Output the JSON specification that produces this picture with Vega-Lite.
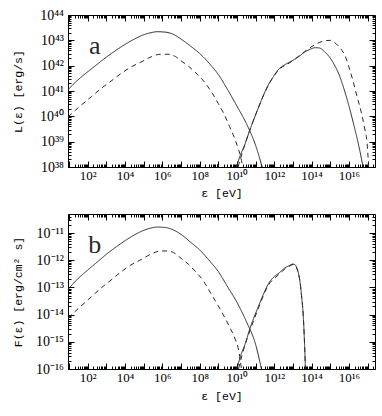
{
  "$schema": "https://vega.github.io/schema/vega-lite/v6.json",
  "padding": {"left": 11, "top": 7, "right": 4, "bottom": 4},
  "background": "white",
  "spacing": 14,
  "config": {
    "view": {"stroke": "#000", "strokeWidth": 1},
    "axis": {"domain": false, "grid": false, "labelFont": "Liberation Serif", "labelFontSize": 13, "labelColor": "#000", "tickColor": "#000", "tickWidth": 1, "titleFont": "Liberation Mono", "titleFontSize": 11.5, "titleFontWeight": "normal", "titleColor": "#000", "titleBaseline": "middle", "labelOverlap": false, "labelFlush": false}
  },
  "datasets": {
    "a": [
      {"c":"sync","s":"solid","e":8.71,"v":1.096e41},{"c":"sync","s":"solid","e":15.85,"v":1.778e41},{"c":"sync","s":"solid","e":39.81,"v":3.311e41},{"c":"sync","s":"solid","e":100,"v":5.754e41},{"c":"sync","s":"solid","e":316.2,"v":1.122e42},{"c":"sync","s":"solid","e":1e3,"v":2.188e42},{"c":"sync","s":"solid","e":3162,"v":3.981e42},{"c":"sync","s":"solid","e":1e4,"v":6.918e42},{"c":"sync","s":"solid","e":3.162e4,"v":1.122e43},{"c":"sync","s":"solid","e":1e5,"v":1.66e43},{"c":"sync","s":"solid","e":3.162e5,"v":2.089e43},{"c":"sync","s":"solid","e":5.012e5,"v":2.188e43},{"c":"sync","s":"solid","e":1.585e6,"v":2.089e43},{"c":"sync","s":"solid","e":3.981e6,"v":1.698e43},{"c":"sync","s":"solid","e":1e7,"v":1.122e43},{"c":"sync","s":"solid","e":3.162e7,"v":6.026e42},{"c":"sync","s":"solid","e":1e8,"v":3.02e42},{"c":"sync","s":"solid","e":3.162e8,"v":1.259e42},{"c":"sync","s":"solid","e":1e9,"v":4.467e41},{"c":"sync","s":"solid","e":3.162e9,"v":1.122e41},{"c":"sync","s":"solid","e":1e10,"v":2.512e40},{"c":"sync","s":"solid","e":3.162e10,"v":5.248e39},{"c":"sync","s":"solid","e":1e11,"v":7.079e38},{"c":"sync","s":"solid","e":2.239e11,"v":1e38},
      {"c":"syncd","s":"dashed","e":8.71,"v":9.55e39},{"c":"syncd","s":"dashed","e":15.85,"v":1.413e40},{"c":"syncd","s":"dashed","e":39.81,"v":2.57e40},{"c":"syncd","s":"dashed","e":158.5,"v":6.026e40},{"c":"syncd","s":"dashed","e":501.2,"v":1.23e41},{"c":"syncd","s":"dashed","e":1995,"v":2.63e41},{"c":"syncd","s":"dashed","e":6310,"v":5.012e41},{"c":"syncd","s":"dashed","e":1.995e4,"v":8.71e41},{"c":"syncd","s":"dashed","e":7.943e4,"v":1.445e42},{"c":"syncd","s":"dashed","e":2.512e5,"v":2.239e42},{"c":"syncd","s":"dashed","e":7.943e5,"v":2.818e42},{"c":"syncd","s":"dashed","e":1.995e6,"v":2.818e42},{"c":"syncd","s":"dashed","e":5.012e6,"v":2.291e42},{"c":"syncd","s":"dashed","e":1e7,"v":1.549e42},{"c":"syncd","s":"dashed","e":2.512e7,"v":9.55e41},{"c":"syncd","s":"dashed","e":5.012e7,"v":6.026e41},{"c":"syncd","s":"dashed","e":1.585e8,"v":2.512e41},{"c":"syncd","s":"dashed","e":3.981e8,"v":1e41},{"c":"syncd","s":"dashed","e":1e9,"v":3.162e40},{"c":"syncd","s":"dashed","e":1.995e9,"v":1.259e40},{"c":"syncd","s":"dashed","e":3.981e9,"v":3.981e39},{"c":"syncd","s":"dashed","e":7.943e9,"v":1.202e39},{"c":"syncd","s":"dashed","e":1.259e10,"v":4.467e38},{"c":"syncd","s":"dashed","e":1.585e10,"v":2.512e38},{"c":"syncd","s":"dashed","e":1.995e10,"v":1e38},
      {"c":"ic","s":"solid","e":9.333e9,"v":1e38},{"c":"ic","s":"solid","e":1.585e10,"v":3.162e38},{"c":"ic","s":"solid","e":2.512e10,"v":7.079e38},{"c":"ic","s":"solid","e":5.012e10,"v":3.02e39},{"c":"ic","s":"solid","e":1.259e11,"v":1.778e40},{"c":"ic","s":"solid","e":2.512e11,"v":6.31e40},{"c":"ic","s":"solid","e":5.012e11,"v":1.862e41},{"c":"ic","s":"solid","e":1e12,"v":4.169e41},{"c":"ic","s":"solid","e":1.585e12,"v":6.761e41},{"c":"ic","s":"solid","e":3.981e12,"v":1.122e42},{"c":"ic","s":"solid","e":7.943e12,"v":1.479e42},{"c":"ic","s":"solid","e":1.995e13,"v":2.239e42},{"c":"ic","s":"solid","e":3.981e13,"v":3.311e42},{"c":"ic","s":"solid","e":7.943e13,"v":4.365e42},{"c":"ic","s":"solid","e":1.585e14,"v":5.129e42},{"c":"ic","s":"solid","e":2.512e14,"v":5.012e42},{"c":"ic","s":"solid","e":5.012e14,"v":3.548e42},{"c":"ic","s":"solid","e":1e15,"v":1.995e42},{"c":"ic","s":"solid","e":1.585e15,"v":1.148e42},{"c":"ic","s":"solid","e":3.162e15,"v":3.981e41},{"c":"ic","s":"solid","e":6.31e15,"v":8.511e40},{"c":"ic","s":"solid","e":1e16,"v":2.63e40},{"c":"ic","s":"solid","e":1.585e16,"v":7.079e39},{"c":"ic","s":"solid","e":2.818e16,"v":1.259e39},{"c":"ic","s":"solid","e":3.981e16,"v":3.981e38},{"c":"ic","s":"solid","e":5.754e16,"v":1e38},
      {"c":"icd","s":"dashed","e":1.148e10,"v":1e38},{"c":"icd","s":"dashed","e":1.995e10,"v":3.981e38},{"c":"icd","s":"dashed","e":5.012e10,"v":3.02e39},{"c":"icd","s":"dashed","e":1.259e11,"v":1.778e40},{"c":"icd","s":"dashed","e":5.012e11,"v":1.778e41},{"c":"icd","s":"dashed","e":1.585e12,"v":6.31e41},{"c":"icd","s":"dashed","e":7.943e12,"v":1.413e42},{"c":"icd","s":"dashed","e":3.981e13,"v":3.467e42},{"c":"icd","s":"dashed","e":1.585e14,"v":6.918e42},{"c":"icd","s":"dashed","e":5.012e14,"v":9.55e42},{"c":"icd","s":"dashed","e":1e15,"v":1e43},{"c":"icd","s":"dashed","e":1.585e15,"v":8.511e42},{"c":"icd","s":"dashed","e":3.162e15,"v":5.248e42},{"c":"icd","s":"dashed","e":6.31e15,"v":2.399e42},{"c":"icd","s":"dashed","e":1e16,"v":8.913e41},{"c":"icd","s":"dashed","e":1.585e16,"v":2.818e41},{"c":"icd","s":"dashed","e":2.818e16,"v":5.623e40},{"c":"icd","s":"dashed","e":5.012e16,"v":1.122e40},{"c":"icd","s":"dashed","e":7.079e16,"v":3.162e39},{"c":"icd","s":"dashed","e":9.333e16,"v":9.772e38},{"c":"icd","s":"dashed","e":1.148e17,"v":1e38}
    ],
    "b": [
      {"c":"sync","s":"solid","e":8.71,"v":8.318e-14},{"c":"sync","s":"solid","e":15.85,"v":1.349e-13},{"c":"sync","s":"solid","e":39.81,"v":2.512e-13},{"c":"sync","s":"solid","e":100,"v":4.365e-13},{"c":"sync","s":"solid","e":316.2,"v":8.511e-13},{"c":"sync","s":"solid","e":1e3,"v":1.66e-12},{"c":"sync","s":"solid","e":3162,"v":3.02e-12},{"c":"sync","s":"solid","e":1e4,"v":5.248e-12},{"c":"sync","s":"solid","e":3.162e4,"v":8.511e-12},{"c":"sync","s":"solid","e":1e5,"v":1.259e-11},{"c":"sync","s":"solid","e":3.162e5,"v":1.585e-11},{"c":"sync","s":"solid","e":5.012e5,"v":1.66e-11},{"c":"sync","s":"solid","e":1.585e6,"v":1.585e-11},{"c":"sync","s":"solid","e":3.981e6,"v":1.288e-11},{"c":"sync","s":"solid","e":1e7,"v":8.913e-12},{"c":"sync","s":"solid","e":3.162e7,"v":4.677e-12},{"c":"sync","s":"solid","e":1e8,"v":2.399e-12},{"c":"sync","s":"solid","e":3.162e8,"v":1e-12},{"c":"sync","s":"solid","e":1e9,"v":3.802e-13},{"c":"sync","s":"solid","e":3.162e9,"v":1.047e-13},{"c":"sync","s":"solid","e":1e10,"v":2.818e-14},{"c":"sync","s":"solid","e":3.162e10,"v":5.623e-15},{"c":"sync","s":"solid","e":1e11,"v":7.943e-16},{"c":"sync","s":"solid","e":2.042e11,"v":1e-16},
      {"c":"syncd","s":"dashed","e":8.71,"v":7.413e-15},{"c":"syncd","s":"dashed","e":15.85,"v":1.096e-14},{"c":"syncd","s":"dashed","e":39.81,"v":1.95e-14},{"c":"syncd","s":"dashed","e":158.5,"v":4.571e-14},{"c":"syncd","s":"dashed","e":501.2,"v":9.333e-14},{"c":"syncd","s":"dashed","e":1995,"v":1.995e-13},{"c":"syncd","s":"dashed","e":6310,"v":3.802e-13},{"c":"syncd","s":"dashed","e":1.995e4,"v":6.607e-13},{"c":"syncd","s":"dashed","e":7.943e4,"v":1.096e-12},{"c":"syncd","s":"dashed","e":2.512e5,"v":1.698e-12},{"c":"syncd","s":"dashed","e":7.943e5,"v":2.188e-12},{"c":"syncd","s":"dashed","e":1.995e6,"v":2.188e-12},{"c":"syncd","s":"dashed","e":5.012e6,"v":1.738e-12},{"c":"syncd","s":"dashed","e":1e7,"v":1.175e-12},{"c":"syncd","s":"dashed","e":2.512e7,"v":7.079e-13},{"c":"syncd","s":"dashed","e":5.012e7,"v":4.365e-13},{"c":"syncd","s":"dashed","e":1.585e8,"v":1.738e-13},{"c":"syncd","s":"dashed","e":3.981e8,"v":6.026e-14},{"c":"syncd","s":"dashed","e":1e9,"v":2.089e-14},{"c":"syncd","s":"dashed","e":1.995e9,"v":8.913e-15},{"c":"syncd","s":"dashed","e":3.981e9,"v":3.548e-15},{"c":"syncd","s":"dashed","e":7.943e9,"v":1.259e-15},{"c":"syncd","s":"dashed","e":1.259e10,"v":4.467e-16},{"c":"syncd","s":"dashed","e":1.738e10,"v":1e-16},
      {"c":"ic","s":"solid","e":1e10,"v":1e-16},{"c":"ic","s":"solid","e":1.585e10,"v":3.162e-16},{"c":"ic","s":"solid","e":2.512e10,"v":7.079e-16},{"c":"ic","s":"solid","e":5.012e10,"v":3.162e-15},{"c":"ic","s":"solid","e":1.259e11,"v":1.66e-14},{"c":"ic","s":"solid","e":2.512e11,"v":5.248e-14},{"c":"ic","s":"solid","e":5.012e11,"v":1.413e-13},{"c":"ic","s":"solid","e":1e12,"v":2.512e-13},{"c":"ic","s":"solid","e":1.585e12,"v":3.162e-13},{"c":"ic","s":"solid","e":3.631e12,"v":5.129e-13},{"c":"ic","s":"solid","e":6.31e12,"v":6.31e-13},{"c":"ic","s":"solid","e":1e13,"v":7.244e-13},{"c":"ic","s":"solid","e":1.259e13,"v":6.918e-13},{"c":"ic","s":"solid","e":1.585e13,"v":5.37e-13},{"c":"ic","s":"solid","e":1.995e13,"v":3.162e-13},{"c":"ic","s":"solid","e":2.399e13,"v":1.585e-13},{"c":"ic","s":"solid","e":2.884e13,"v":5.012e-14},{"c":"ic","s":"solid","e":3.548e13,"v":1e-14},{"c":"ic","s":"solid","e":4.266e13,"v":6.31e-16},{"c":"ic","s":"solid","e":4.677e13,"v":1e-16},
      {"c":"icd","s":"dashed","e":1.202e10,"v":1e-16},{"c":"icd","s":"dashed","e":1.995e10,"v":3.802e-16},{"c":"icd","s":"dashed","e":5.012e10,"v":2.63e-15},{"c":"icd","s":"dashed","e":1.259e11,"v":1.413e-14},{"c":"icd","s":"dashed","e":5.012e11,"v":1.259e-13},{"c":"icd","s":"dashed","e":1.585e12,"v":2.818e-13},{"c":"icd","s":"dashed","e":3.631e12,"v":4.677e-13},{"c":"icd","s":"dashed","e":6.31e12,"v":5.888e-13},{"c":"icd","s":"dashed","e":1e13,"v":6.918e-13},{"c":"icd","s":"dashed","e":1.259e13,"v":6.761e-13},{"c":"icd","s":"dashed","e":1.585e13,"v":5.248e-13},{"c":"icd","s":"dashed","e":1.995e13,"v":3.162e-13},{"c":"icd","s":"dashed","e":2.399e13,"v":1.585e-13},{"c":"icd","s":"dashed","e":2.884e13,"v":5.012e-14},{"c":"icd","s":"dashed","e":3.548e13,"v":1e-14},{"c":"icd","s":"dashed","e":4.266e13,"v":6.31e-16},{"c":"icd","s":"dashed","e":4.677e13,"v":1e-16}
    ]
  },
  "vconcat": [
    {
      "width": 307, "height": 152,
      "data": {"name": "a"},
      "resolve": {"axis": {"x": "independent", "y": "independent"}},
      "layer": [
        {
          "mark": {"type": "line", "color": "#2a2a2a", "strokeWidth": 1, "clip": true, "interpolate": "monotone"},
          "encoding": {
            "x": {"field": "e", "type": "quantitative", "scale": {"type": "log", "domain": [8.71, 2.512e17], "nice": false},
              "axis": {"orient": "bottom", "title": "ε [eV]", "titleX": 153.5, "titleY": 26, "values": [10,100,1e3,1e4,1e5,1e6,1e7,1e8,1e9,1e10,1e11,1e12,1e13,1e14,1e15,1e16,1e17], "tickSize": -6, "labelPadding": 8,
                "labelExpr": "(round(log(datum.value)/LN10) % 2 != 0) ? '' : ('10' + (round(log(datum.value)/LN10) >= 10 ? substring('⁰¹²³⁴⁵⁶⁷⁸⁹', floor(round(log(datum.value)/LN10)/10), floor(round(log(datum.value)/LN10)/10)+1) : '') + substring('⁰¹²³⁴⁵⁶⁷⁸⁹', round(log(datum.value)/LN10) % 10, round(log(datum.value)/LN10) % 10 + 1))"}},
            "y": {"field": "v", "type": "quantitative", "scale": {"type": "log", "domain": [1e38, 1e44], "nice": false},
              "axis": {"orient": "left", "title": "L(ε) [erg/s]", "titleX": -50, "titleY": 76, "values": [1e38,1e39,1e40,1e41,1e42,1e43,1e44], "tickSize": -6, "labelPadding": 10.5, "labelFontSize": 14,
                "labelExpr": "'10' + substring('⁰¹²³⁴⁵⁶⁷⁸⁹', floor(round(log(datum.value)/LN10)/10), floor(round(log(datum.value)/LN10)/10)+1) + substring('⁰¹²³⁴⁵⁶⁷⁸⁹', round(log(datum.value)/LN10) % 10, round(log(datum.value)/LN10) % 10 + 1)"}},
            "detail": {"field": "c"},
            "strokeDash": {"field": "s", "type": "nominal", "scale": {"domain": ["solid", "dashed"], "range": [[1, 0], [5, 4]]}, "legend": null}
          }
        },
        {
          "mark": {"type": "point", "opacity": 0},
          "encoding": {
            "x": {"field": "e", "type": "quantitative", "scale": {"type": "log", "domain": [8.71, 2.512e17], "nice": false},
              "axis": {"orient": "bottom", "title": null, "labels": false, "tickSize": -3, "values": [9,20,30,40,50,60,70,80,90,200,300,400,500,600,700,800,900,2e3,3e3,4e3,5e3,6e3,7e3,8e3,9e3,2e4,3e4,4e4,5e4,6e4,7e4,8e4,9e4,2e5,3e5,4e5,5e5,6e5,7e5,8e5,9e5,2e6,3e6,4e6,5e6,6e6,7e6,8e6,9e6,2e7,3e7,4e7,5e7,6e7,7e7,8e7,9e7,2e8,3e8,4e8,5e8,6e8,7e8,8e8,9e8,2e9,3e9,4e9,5e9,6e9,7e9,8e9,9e9,2e10,3e10,4e10,5e10,6e10,7e10,8e10,9e10,2e11,3e11,4e11,5e11,6e11,7e11,8e11,9e11,2e12,3e12,4e12,5e12,6e12,7e12,8e12,9e12,2e13,3e13,4e13,5e13,6e13,7e13,8e13,9e13,2e14,3e14,4e14,5e14,6e14,7e14,8e14,9e14,2e15,3e15,4e15,5e15,6e15,7e15,8e15,9e15,2e16,3e16,4e16,5e16,6e16,7e16,8e16,9e16,2e17]}},
            "y": {"field": "v", "type": "quantitative", "scale": {"type": "log", "domain": [1e38, 1e44], "nice": false},
              "axis": {"orient": "left", "title": null, "labels": false, "tickSize": -3, "values": [2e38,3e38,4e38,5e38,6e38,7e38,8e38,9e38,2e39,3e39,4e39,5e39,6e39,7e39,8e39,9e39,2e40,3e40,4e40,5e40,6e40,7e40,8e40,9e40,2e41,3e41,4e41,5e41,6e41,7e41,8e41,9e41,2e42,3e42,4e42,5e42,6e42,7e42,8e42,9e42,2e43,3e43,4e43,5e43,6e43,7e43,8e43,9e43]}}
          }
        },
        {
          "mark": {"type": "point", "opacity": 0},
          "encoding": {
            "x": {"field": "e", "type": "quantitative", "scale": {"type": "log", "domain": [8.71, 2.512e17], "nice": false},
              "axis": {"orient": "top", "title": null, "labels": false, "tickSize": -6, "values": [10,100,1e3,1e4,1e5,1e6,1e7,1e8,1e9,1e10,1e11,1e12,1e13,1e14,1e15,1e16,1e17]}},
            "y": {"field": "v", "type": "quantitative", "scale": {"type": "log", "domain": [1e38, 1e44], "nice": false},
              "axis": {"orient": "right", "title": null, "labels": false, "tickSize": -6, "values": [1e38,1e39,1e40,1e41,1e42,1e43,1e44]}}
          }
        },
        {
          "mark": {"type": "point", "opacity": 0},
          "encoding": {
            "x": {"field": "e", "type": "quantitative", "scale": {"type": "log", "domain": [8.71, 2.512e17], "nice": false},
              "axis": {"orient": "top", "title": null, "labels": false, "tickSize": -3, "values": [9,20,30,40,50,60,70,80,90,200,300,400,500,600,700,800,900,2e3,3e3,4e3,5e3,6e3,7e3,8e3,9e3,2e4,3e4,4e4,5e4,6e4,7e4,8e4,9e4,2e5,3e5,4e5,5e5,6e5,7e5,8e5,9e5,2e6,3e6,4e6,5e6,6e6,7e6,8e6,9e6,2e7,3e7,4e7,5e7,6e7,7e7,8e7,9e7,2e8,3e8,4e8,5e8,6e8,7e8,8e8,9e8,2e9,3e9,4e9,5e9,6e9,7e9,8e9,9e9,2e10,3e10,4e10,5e10,6e10,7e10,8e10,9e10,2e11,3e11,4e11,5e11,6e11,7e11,8e11,9e11,2e12,3e12,4e12,5e12,6e12,7e12,8e12,9e12,2e13,3e13,4e13,5e13,6e13,7e13,8e13,9e13,2e14,3e14,4e14,5e14,6e14,7e14,8e14,9e14,2e15,3e15,4e15,5e15,6e15,7e15,8e15,9e15,2e16,3e16,4e16,5e16,6e16,7e16,8e16,9e16,2e17]}},
            "y": {"field": "v", "type": "quantitative", "scale": {"type": "log", "domain": [1e38, 1e44], "nice": false},
              "axis": {"orient": "right", "title": null, "labels": false, "tickSize": -3, "values": [2e38,3e38,4e38,5e38,6e38,7e38,8e38,9e38,2e39,3e39,4e39,5e39,6e39,7e39,8e39,9e39,2e40,3e40,4e40,5e40,6e40,7e40,8e40,9e40,2e41,3e41,4e41,5e41,6e41,7e41,8e41,9e41,2e42,3e42,4e42,5e42,6e42,7e42,8e42,9e42,2e43,3e43,4e43,5e43,6e43,7e43,8e43,9e43]}}
          }
        },
        {
          "data": {"values": [{"t": "a", "e": 236, "v": 2.88e42}]},
          "mark": {"type": "text", "font": "Liberation Serif", "fontSize": 26, "align": "center", "baseline": "alphabetic", "color": "#2a2a2a"},
          "encoding": {
            "x": {"field": "e", "type": "quantitative", "scale": {"type": "log", "domain": [8.71, 2.512e17], "nice": false}, "axis": null},
            "y": {"field": "v", "type": "quantitative", "scale": {"type": "log", "domain": [1e38, 1e44], "nice": false}, "axis": null},
            "text": {"field": "t"}
          }
        }
      ]
    },
    {
      "width": 307, "height": 155,
      "data": {"name": "b"},
      "resolve": {"axis": {"x": "independent", "y": "independent"}},
      "layer": [
        {
          "mark": {"type": "line", "color": "#2a2a2a", "strokeWidth": 1, "clip": true, "interpolate": "monotone"},
          "encoding": {
            "x": {"field": "e", "type": "quantitative", "scale": {"type": "log", "domain": [8.71, 2.512e17], "nice": false},
              "axis": {"orient": "bottom", "title": "ε [eV]", "titleX": 153.5, "titleY": 27, "values": [10,100,1e3,1e4,1e5,1e6,1e7,1e8,1e9,1e10,1e11,1e12,1e13,1e14,1e15,1e16,1e17], "tickSize": -6, "labelPadding": 8,
                "labelExpr": "(round(log(datum.value)/LN10) % 2 != 0) ? '' : ('10' + (round(log(datum.value)/LN10) >= 10 ? substring('⁰¹²³⁴⁵⁶⁷⁸⁹', floor(round(log(datum.value)/LN10)/10), floor(round(log(datum.value)/LN10)/10)+1) : '') + substring('⁰¹²³⁴⁵⁶⁷⁸⁹', round(log(datum.value)/LN10) % 10, round(log(datum.value)/LN10) % 10 + 1))"}},
            "y": {"field": "v", "type": "quantitative", "scale": {"type": "log", "domain": [1e-16, 5.012e-11], "nice": false},
              "axis": {"orient": "left", "title": "F(ε) [erg/cm² s]", "titleX": -50, "titleY": 77.5, "values": [1e-16,1e-15,1e-14,1e-13,1e-12,1e-11], "tickSize": -6, "labelPadding": 10.5, "labelFontSize": 14,
                "labelExpr": "'10⁻' + substring('⁰¹²³⁴⁵⁶⁷⁸⁹', floor(round(-log(datum.value)/LN10)/10), floor(round(-log(datum.value)/LN10)/10)+1) + substring('⁰¹²³⁴⁵⁶⁷⁸⁹', round(-log(datum.value)/LN10) % 10, round(-log(datum.value)/LN10) % 10 + 1)"}},
            "detail": {"field": "c"},
            "strokeDash": {"field": "s", "type": "nominal", "scale": {"domain": ["solid", "dashed"], "range": [[1, 0], [5, 4]]}, "legend": null}
          }
        },
        {
          "mark": {"type": "point", "opacity": 0},
          "encoding": {
            "x": {"field": "e", "type": "quantitative", "scale": {"type": "log", "domain": [8.71, 2.512e17], "nice": false},
              "axis": {"orient": "bottom", "title": null, "labels": false, "tickSize": -3, "values": [9,20,30,40,50,60,70,80,90,200,300,400,500,600,700,800,900,2e3,3e3,4e3,5e3,6e3,7e3,8e3,9e3,2e4,3e4,4e4,5e4,6e4,7e4,8e4,9e4,2e5,3e5,4e5,5e5,6e5,7e5,8e5,9e5,2e6,3e6,4e6,5e6,6e6,7e6,8e6,9e6,2e7,3e7,4e7,5e7,6e7,7e7,8e7,9e7,2e8,3e8,4e8,5e8,6e8,7e8,8e8,9e8,2e9,3e9,4e9,5e9,6e9,7e9,8e9,9e9,2e10,3e10,4e10,5e10,6e10,7e10,8e10,9e10,2e11,3e11,4e11,5e11,6e11,7e11,8e11,9e11,2e12,3e12,4e12,5e12,6e12,7e12,8e12,9e12,2e13,3e13,4e13,5e13,6e13,7e13,8e13,9e13,2e14,3e14,4e14,5e14,6e14,7e14,8e14,9e14,2e15,3e15,4e15,5e15,6e15,7e15,8e15,9e15,2e16,3e16,4e16,5e16,6e16,7e16,8e16,9e16,2e17]}},
            "y": {"field": "v", "type": "quantitative", "scale": {"type": "log", "domain": [1e-16, 5.012e-11], "nice": false},
              "axis": {"orient": "left", "title": null, "labels": false, "tickSize": -3, "values": [2e-16,3e-16,4e-16,5e-16,6e-16,7e-16,8e-16,9e-16,2e-15,3e-15,4e-15,5e-15,6e-15,7e-15,8e-15,9e-15,2e-14,3e-14,4e-14,5e-14,6e-14,7e-14,8e-14,9e-14,2e-13,3e-13,4e-13,5e-13,6e-13,7e-13,8e-13,9e-13,2e-12,3e-12,4e-12,5e-12,6e-12,7e-12,8e-12,9e-12,2e-11,3e-11,4e-11]}}
          }
        },
        {
          "mark": {"type": "point", "opacity": 0},
          "encoding": {
            "x": {"field": "e", "type": "quantitative", "scale": {"type": "log", "domain": [8.71, 2.512e17], "nice": false},
              "axis": {"orient": "top", "title": null, "labels": false, "tickSize": -6, "values": [10,100,1e3,1e4,1e5,1e6,1e7,1e8,1e9,1e10,1e11,1e12,1e13,1e14,1e15,1e16,1e17]}},
            "y": {"field": "v", "type": "quantitative", "scale": {"type": "log", "domain": [1e-16, 5.012e-11], "nice": false},
              "axis": {"orient": "right", "title": null, "labels": false, "tickSize": -6, "values": [1e-16,1e-15,1e-14,1e-13,1e-12,1e-11]}}
          }
        },
        {
          "mark": {"type": "point", "opacity": 0},
          "encoding": {
            "x": {"field": "e", "type": "quantitative", "scale": {"type": "log", "domain": [8.71, 2.512e17], "nice": false},
              "axis": {"orient": "top", "title": null, "labels": false, "tickSize": -3, "values": [9,20,30,40,50,60,70,80,90,200,300,400,500,600,700,800,900,2e3,3e3,4e3,5e3,6e3,7e3,8e3,9e3,2e4,3e4,4e4,5e4,6e4,7e4,8e4,9e4,2e5,3e5,4e5,5e5,6e5,7e5,8e5,9e5,2e6,3e6,4e6,5e6,6e6,7e6,8e6,9e6,2e7,3e7,4e7,5e7,6e7,7e7,8e7,9e7,2e8,3e8,4e8,5e8,6e8,7e8,8e8,9e8,2e9,3e9,4e9,5e9,6e9,7e9,8e9,9e9,2e10,3e10,4e10,5e10,6e10,7e10,8e10,9e10,2e11,3e11,4e11,5e11,6e11,7e11,8e11,9e11,2e12,3e12,4e12,5e12,6e12,7e12,8e12,9e12,2e13,3e13,4e13,5e13,6e13,7e13,8e13,9e13,2e14,3e14,4e14,5e14,6e14,7e14,8e14,9e14,2e15,3e15,4e15,5e15,6e15,7e15,8e15,9e15,2e16,3e16,4e16,5e16,6e16,7e16,8e16,9e16,2e17]}},
            "y": {"field": "v", "type": "quantitative", "scale": {"type": "log", "domain": [1e-16, 5.012e-11], "nice": false},
              "axis": {"orient": "right", "title": null, "labels": false, "tickSize": -3, "values": [2e-16,3e-16,4e-16,5e-16,6e-16,7e-16,8e-16,9e-16,2e-15,3e-15,4e-15,5e-15,6e-15,7e-15,8e-15,9e-15,2e-14,3e-14,4e-14,5e-14,6e-14,7e-14,8e-14,9e-14,2e-13,3e-13,4e-13,5e-13,6e-13,7e-13,8e-13,9e-13,2e-12,3e-12,4e-12,5e-12,6e-12,7e-12,8e-12,9e-12,2e-11,3e-11,4e-11]}}
          }
        },
        {
          "data": {"values": [{"t": "b", "e": 236, "v": 1.86e-12}]},
          "mark": {"type": "text", "font": "Liberation Serif", "fontSize": 26, "align": "center", "baseline": "alphabetic", "color": "#2a2a2a"},
          "encoding": {
            "x": {"field": "e", "type": "quantitative", "scale": {"type": "log", "domain": [8.71, 2.512e17], "nice": false}, "axis": null},
            "y": {"field": "v", "type": "quantitative", "scale": {"type": "log", "domain": [1e-16, 5.012e-11], "nice": false}, "axis": null},
            "text": {"field": "t"}
          }
        }
      ]
    }
  ]
}
